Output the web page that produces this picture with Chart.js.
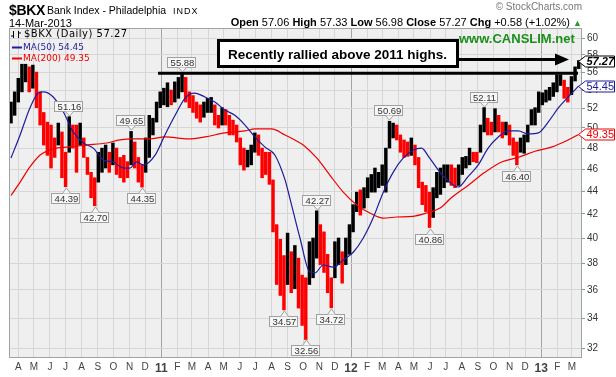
<!DOCTYPE html>
<html>
<head>
<meta charset="utf-8">
<script src="https://cdn.jsdelivr.net/npm/chart.js@4.4.0/dist/chart.umd.min.js"></script>
<style>
  body { margin: 0; background: #fff; font-family: Arial, "Liberation Sans", sans-serif; }
  #wrap { position: relative; width: 616px; height: 377px; overflow: hidden; }
  #c { position: absolute; left: 0; top: 0; }
  .t { position: absolute; white-space: nowrap; color: #000; line-height: 1.15; }
  #note { position: absolute; left: 217px; top: 39px; width: 242px; height: 29px; box-sizing: border-box; white-space: nowrap;
          border: 3px solid #000; background: #fff; font: bold 13.5px Arial, sans-serif; padding: 5px 0 0 8px; }
</style>
</head>
<body>
<div id="wrap">
  <canvas id="c" width="616" height="377"></canvas>

  <div class="t" style="left:9px;top:2px;font:bold 14px Arial;letter-spacing:-0.3px">$BKX</div>
  <div class="t" style="left:47px;top:4px;font:10.5px Arial">Bank Index - Philadelphia</div>
  <div class="t" style="left:173px;top:6px;font:9px Arial;letter-spacing:1px">INDX</div>
  <div class="t" style="left:9px;top:17px;font:11px Arial">14-Mar-2013</div>
  <div class="t" style="right:34px;top:1px;font:10px Arial;color:#777">© StockCharts.com</div>
  <div class="t" style="right:34px;top:16px;font:11px Arial"><b>Open</b> 57.06 <b>High</b> 57.33 <b>Low</b> 56.98 <b>Close</b> 57.27 <b>Chg</b> +0.58 (+1.02%) <span style="color:#2a9a2a;font-size:9px">▲</span></div>

  <div class="t" style="left:24px;top:28px;font:10px 'DejaVu Sans';letter-spacing:0.5px">$BKX (Daily) 57.27</div>
  <div class="t" style="left:23px;top:42px;font:9px 'DejaVu Sans';color:#1c1c9c">MA(50) 54.45</div>
  <div class="t" style="left:23px;top:53px;font:9px 'DejaVu Sans';color:#ee0000">MA(200) 49.35</div>

  <div class="t" style="left:459px;top:31px;font:bold 13px Arial;color:#1a8f1a">www.CANSLIM.net</div>
  <div id="note">Recently rallied above 2011 highs.</div>
</div>

<script>
// weekly high / low of $BKX, week 0 = mid-March 2010
const weekHighs = [
  52.7, 53.8, 55.3, 56.9, 56.9, 56.6, 56.8, 56.0, 53.8, 51.6,
  50.6, 50.3, 49.0, 50.5, 49.6, 47.6, 51.16, 50.3, 50.3, 50.5,
  49.0, 47.1, 45.7, 45.2, 47.6, 48.0, 48.3, 47.6, 48.5, 48.0,
  47.1, 47.3, 46.7, 49.65, 48.6, 47.1, 46.4, 49.0, 51.3, 51.0,
  52.7, 53.8, 54.2, 54.8, 54.0, 54.9, 55.4, 55.88, 55.4, 53.8,
  53.4, 52.7, 52.4, 52.7, 53.1, 53.2, 52.4, 51.3, 52.1, 51.9,
  51.3, 50.8, 50.3, 49.0, 48.0, 47.8, 48.3, 49.5, 49.3, 48.0,
  47.6, 47.6, 45.0, 41.1, 39.9, 38.6, 40.4, 38.9, 39.4, 38.4,
  37.1, 36.9, 39.7, 40.0, 42.27, 41.1, 40.5, 38.7, 36.9, 39.7,
  40.0, 38.9, 40.0, 41.1, 42.8, 43.9, 44.1, 44.3, 45.2, 45.5,
  46.1, 45.7, 46.4, 48.0, 50.69, 50.5, 50.3, 49.3, 48.8, 48.6,
  49.0, 48.3, 47.1, 44.8, 44.5, 43.9, 44.3, 45.7, 46.1, 46.4,
  46.4, 46.4, 46.1, 46.4, 47.1, 47.2, 48.0, 47.6, 47.6, 50.3,
  52.11, 51.0, 50.6, 52.0, 51.3, 50.6, 50.6, 50.3, 49.0, 48.6,
  49.0, 49.3, 50.3, 51.9, 52.1, 53.8, 53.7, 54.0, 54.3, 54.8,
  55.7, 55.7, 55.1, 54.3, 55.5, 56.6, 57.33
];
const weekLows = [
  50.5, 51.3, 52.7, 53.8, 54.9, 53.8, 54.2, 52.1, 50.3, 48.3,
  47.3, 46.1, 47.1, 48.3, 45.2, 44.39, 47.6, 48.0, 45.7, 48.3,
  47.1, 45.5, 43.4, 42.70, 44.8, 45.7, 46.1, 45.7, 46.4, 45.5,
  45.2, 44.8, 45.2, 46.4, 46.1, 44.8, 44.35, 45.7, 47.1, 49.3,
  50.6, 52.1, 52.4, 52.2, 52.4, 52.7, 53.1, 53.8, 52.7, 52.1,
  51.6, 51.0, 50.6, 51.1, 51.6, 51.6, 50.3, 50.0, 50.3, 50.3,
  49.3, 49.3, 48.6, 46.4, 45.9, 46.2, 46.4, 47.6, 47.3, 45.2,
  45.5, 44.6, 40.5, 36.4, 35.6, 34.57, 36.4, 35.8, 36.1, 34.7,
  33.5, 32.56, 36.4, 36.9, 38.4, 37.9, 37.3, 35.8, 34.72, 36.9,
  37.9, 36.5, 37.9, 38.7, 40.5, 42.2, 41.9, 42.5, 43.4, 43.9,
  43.9, 44.3, 44.5, 43.9, 48.0, 49.0, 48.8, 47.6, 47.1, 47.2,
  47.3, 46.4, 44.3, 42.8, 42.2, 40.86, 41.7, 43.4, 43.7, 44.3,
  44.8, 44.5, 44.3, 44.5, 45.5, 46.1, 46.4, 46.7, 46.6, 47.6,
  49.6, 49.3, 49.3, 49.6, 49.6, 49.0, 49.3, 48.3, 47.3, 46.40,
  47.6, 47.5, 48.6, 50.3, 50.3, 51.6, 52.4, 52.7, 52.9, 53.3,
  53.8, 54.5, 53.1, 52.7, 53.5, 55.0, 56.4
];

const ma50Weeks = [0, 2.5, 5.2, 7.5, 8.9, 11.6, 14.4, 17.1, 19.9, 22.6, 25.4, 28.1, 30.9, 32.7, 34.5, 36.4,
  39.6, 42.3, 45.1, 47.8, 50.5, 53.3, 56, 58.8, 61.5, 64.3, 67, 69.8, 72.5, 75.3, 76.6, 79.4, 82.1, 83.5,
  85.8, 88.6, 91.3, 94.1, 96.8, 99.5, 102.3, 105, 107.8, 110.5, 112.8, 115, 117.9, 119.2, 122.9, 125.6,
  128.4, 131.1, 133.9, 136.6, 139.4, 142.1, 144.9, 147.6, 150.4, 153.1, 156];
const ma50Values = [47.05, 49.3, 52.07, 53.67, 53.8, 53.24, 51.65, 49.6, 48.5, 48.0, 46.86, 46.67, 46.1, 46.1, 46.67, 46.4,
  47.33, 49.3, 51.3, 53.1, 53.67, 53.24, 52.7, 51.86, 51.3, 50.3, 49.1, 48.1, 47.33, 45.0, 43.4, 40.0, 37.33, 37.26,
  37.87, 37.7, 38.25, 38.88, 40.0, 41.65, 43.9, 45.7, 47.05, 47.8, 48.0, 47.05, 45.7, 45.2, 44.36, 45.3,
  46.4, 48.0, 49.1, 49.7, 49.7, 49.4, 49.5, 50.6, 52.07, 53.24, 54.45];

const ma200Weeks = [0, 2.5, 5.2, 8, 9.8, 12.5, 15.3, 20.8, 26.3, 29.9, 33.6, 38.2, 42.3, 48.7, 53.3, 58.8, 64.3,
  67, 71.6, 75.3, 78, 80.3, 84, 87.6, 91.3, 95, 98.6, 102.3, 106, 110.5, 114.2, 117.9, 121, 125.6, 130.2,
  134.8, 139.4, 144, 148.5, 153.1, 156];
const ma200Values = [43.6, 44.8, 46.2, 47.33, 47.7, 48.0, 48.1, 48.3, 48.5, 48.8, 48.9, 48.9, 49.1, 48.9, 49.1, 49.5, 49.7,
  49.9, 49.9, 49.3, 48.8, 48.3, 47.05, 45.45, 43.9, 42.77, 42.08, 41.65, 41.74, 41.8, 42.08, 42.5, 43.4, 44.5, 45.7,
  46.67, 47.1, 47.7, 48.1, 48.8, 49.35];

// labelled highs and lows
const pivotWeeks = [15, 16, 23, 33, 36, 47, 75, 81, 84, 88, 104, 115, 130, 139];
const pivotValues = [44.39, 51.16, 42.70, 49.65, 44.35, 55.88, 34.57, 32.56, 42.27, 34.72, 50.69, 40.86, 52.11, 46.40];
const pivotIsHigh = [false, true, false, true, false, true, false, false, true, false, true, false, true, false];

const resistanceLevel = 55.88;
const resistanceWeeks = [40.4, 155.8];

const yTicks = [32, 34, 36, 38, 40, 42, 44, 46, 48, 50, 52, 54, 56, 58, 60];
const tickLabels = ['A','M','J','J','A','S','O','N','D','11','F','M','A','M','J','J','A','S','O','N','D','12',
  'F','M','A','M','J','J','A','S','O','N','D','13','F','M'];

const lastClose = 57.27, lastMa50 = 54.45, lastMa200 = 49.35;

// week numbers for the first day of each month, from April 2010
const startDay = Date.UTC(2010, 2, 18);
const monthTicks = tickLabels.map((_, i) => (Date.UTC(2010, 3 + i, 1) - startDay) / (7 * 864e5));

const barColors = weekHighs.map((h, i) => {
  if (i === 0) return '#000';
  const mid = (h + weekLows[i]) / 2, prev = (weekHighs[i - 1] + weekLows[i - 1]) / 2;
  return mid < prev ? '#ff0000' : '#000';
});

const overlay = {
  id: 'overlay',
  beforeDraw(chart) {
    const { ctx, chartArea: a } = chart;
    ctx.save();
    ctx.fillStyle = '#efefef';
    ctx.fillRect(a.left, a.top, a.width, a.height);
    ctx.restore();
  },
  afterDraw(chart) {
    const { ctx, chartArea: a } = chart;
    const xs = chart.scales.x, ys = chart.scales.y;
    ctx.save();

    // frame
    ctx.strokeStyle = '#9aa6a6';
    ctx.lineWidth = 1;
    ctx.strokeRect(a.left + 0.5, a.top + 0.5, a.width - 1, a.height - 1);

    // legend icon
    ctx.strokeStyle = '#000';
    ctx.beginPath();
    ctx.moveTo(13.5, 31); ctx.lineTo(13.5, 38); ctx.moveTo(11, 36); ctx.lineTo(13.5, 36);
    ctx.moveTo(18.5, 31); ctx.lineTo(18.5, 38); ctx.moveTo(18.5, 33); ctx.lineTo(21, 33);
    ctx.stroke();
    ctx.lineWidth = 2;
    ctx.strokeStyle = '#1c1c9c';
    ctx.beginPath(); ctx.moveTo(12, 47.5); ctx.lineTo(22, 47.5); ctx.stroke();
    ctx.strokeStyle = '#ee0000';
    ctx.beginPath(); ctx.moveTo(12, 58.5); ctx.lineTo(22, 58.5); ctx.stroke();

    // arrow from the note
    ctx.strokeStyle = '#000';
    ctx.fillStyle = '#000';
    ctx.lineWidth = 3;
    ctx.beginPath(); ctx.moveTo(459, 59.5); ctx.lineTo(558, 59.5); ctx.stroke();
    ctx.beginPath(); ctx.moveTo(569, 59.5); ctx.lineTo(555, 53.5); ctx.lineTo(555, 65.5); ctx.closePath(); ctx.fill();

    // high / low labels
    ctx.font = '9.5px Arial';
    ctx.textAlign = 'center';
    ctx.textBaseline = 'middle';
    ctx.lineWidth = 1;
    pivotWeeks.forEach((w, i) => {
      const px = Math.round(xs.getPixelForValue(w));
      const py = Math.round(ys.getPixelForValue(pivotValues[i]));
      const txt = pivotValues[i].toFixed(2);
      const bw = Math.round(ctx.measureText(txt).width) + 5, bh = 11;
      const bx = px - Math.round(bw / 2);
      const by = pivotIsHigh[i] ? py - 5 - bh : py + 6;
      ctx.fillStyle = '#f6f6f6';
      ctx.strokeStyle = '#a0a0a0';
      ctx.fillRect(bx, by, bw, bh);
      ctx.strokeRect(bx + 0.5, by + 0.5, bw - 1, bh - 1);
      const edge = pivotIsHigh[i] ? by + bh - 0.5 : by + 0.5;
      const tip = pivotIsHigh[i] ? py - 1 : py + 1;
      ctx.beginPath();
      ctx.moveTo(px - 3.5, edge); ctx.lineTo(px + 0.5, tip); ctx.lineTo(px + 4.5, edge);
      ctx.fill(); ctx.stroke();
      ctx.fillStyle = '#333';
      ctx.fillText(txt, px + 0.5, by + bh / 2 + 0.5);
    });

    // value tags on the right axis
    const tag = (val, color, font) => {
      const y = Math.round(ys.getPixelForValue(val)) + 0.5;
      const x0 = a.right - 3.5, x1 = a.right + 3.5, x2 = 614.5;
      ctx.fillStyle = '#fff';
      ctx.strokeStyle = color;
      ctx.beginPath();
      ctx.moveTo(x0, y); ctx.lineTo(x1, y - 5.5); ctx.lineTo(x2, y - 5.5);
      ctx.lineTo(x2, y + 5.5); ctx.lineTo(x1, y + 5.5); ctx.closePath();
      ctx.fill(); ctx.stroke();
      ctx.fillStyle = color;
      ctx.font = font;
      ctx.textAlign = 'left';
      ctx.fillText(val.toFixed(2), x1 + 1, y + 0.5);
    };
    tag(lastMa200, '#ee0000', '11px Arial');
    tag(lastMa50, '#1c1c9c', '11px Arial');
    tag(lastClose, '#000', 'italic bold 11px Arial');

    ctx.restore();
  }
};

new Chart(document.getElementById('c'), {
  type: 'bar',
  data: {
    datasets: [
      {
        type: 'line',
        data: resistanceWeeks.map(w => ({ x: w, y: resistanceLevel })),
        borderColor: '#000', borderWidth: 3, pointRadius: 0, order: 0
      },
      {
        type: 'line', label: 'MA(50)',
        data: ma50Weeks.map((w, i) => ({ x: w, y: ma50Values[i] })),
        borderColor: '#1c1c9c', borderWidth: 1.2, pointRadius: 0,
        cubicInterpolationMode: 'monotone', order: 1
      },
      {
        type: 'line', label: 'MA(200)',
        data: ma200Weeks.map((w, i) => ({ x: w, y: ma200Values[i] })),
        borderColor: '#ee0000', borderWidth: 1.2, pointRadius: 0,
        cubicInterpolationMode: 'monotone', order: 2
      },
      {
        type: 'bar', label: '$BKX',
        data: weekHighs.map((h, i) => ({ x: i, y: [weekLows[i], h] })),
        backgroundColor: barColors,
        barThickness: 2.8,
        order: 3
      }
    ]
  },
  options: {
    responsive: false,
    animation: false,
    devicePixelRatio: 1,
    layout: { padding: { left: 9, top: 28, right: 0, bottom: 0 } },
    plugins: { legend: { display: false }, tooltip: { enabled: false } },
    scales: {
      x: {
        type: 'linear',
        offset: false,
        min: -0.55, max: 156.9,
        afterBuildTicks: s => { s.ticks = monthTicks.map(v => ({ value: v })); },
        afterFit: s => { s.height = 19; },
        ticks: {
          autoSkip: false, maxRotation: 0, padding: 3,
          callback: (v, i) => tickLabels[i],
          color: '#444',
          font: c => /\d/.test(tickLabels[c.index] || '') ? { size: 12, weight: 'bold', family: 'Arial' } : { size: 10, family: 'Arial' }
        },
        grid: {
          offset: false,
          drawTicks: false,
          color: c => /\d/.test(tickLabels[c.index] || '') ? '#a4a4a4' : '#d6d6d6'
        },
        border: { display: false }
      },
      y: {
        type: 'logarithmic',
        position: 'right',
        min: 31.36, max: 61.24,
        afterBuildTicks: s => { s.ticks = yTicks.map(v => ({ value: v })); },
        afterFit: s => { s.width = 34; },
        ticks: {
          callback: v => String(v),
          color: '#333', padding: 2,
          font: { size: 10, family: 'Arial' }
        },
        grid: { color: '#d6d6d6', tickLength: 3, tickColor: '#8a9a9a' },
        border: { display: false }
      }
    }
  },
  plugins: [overlay]
});
</script>
</body>
</html>
